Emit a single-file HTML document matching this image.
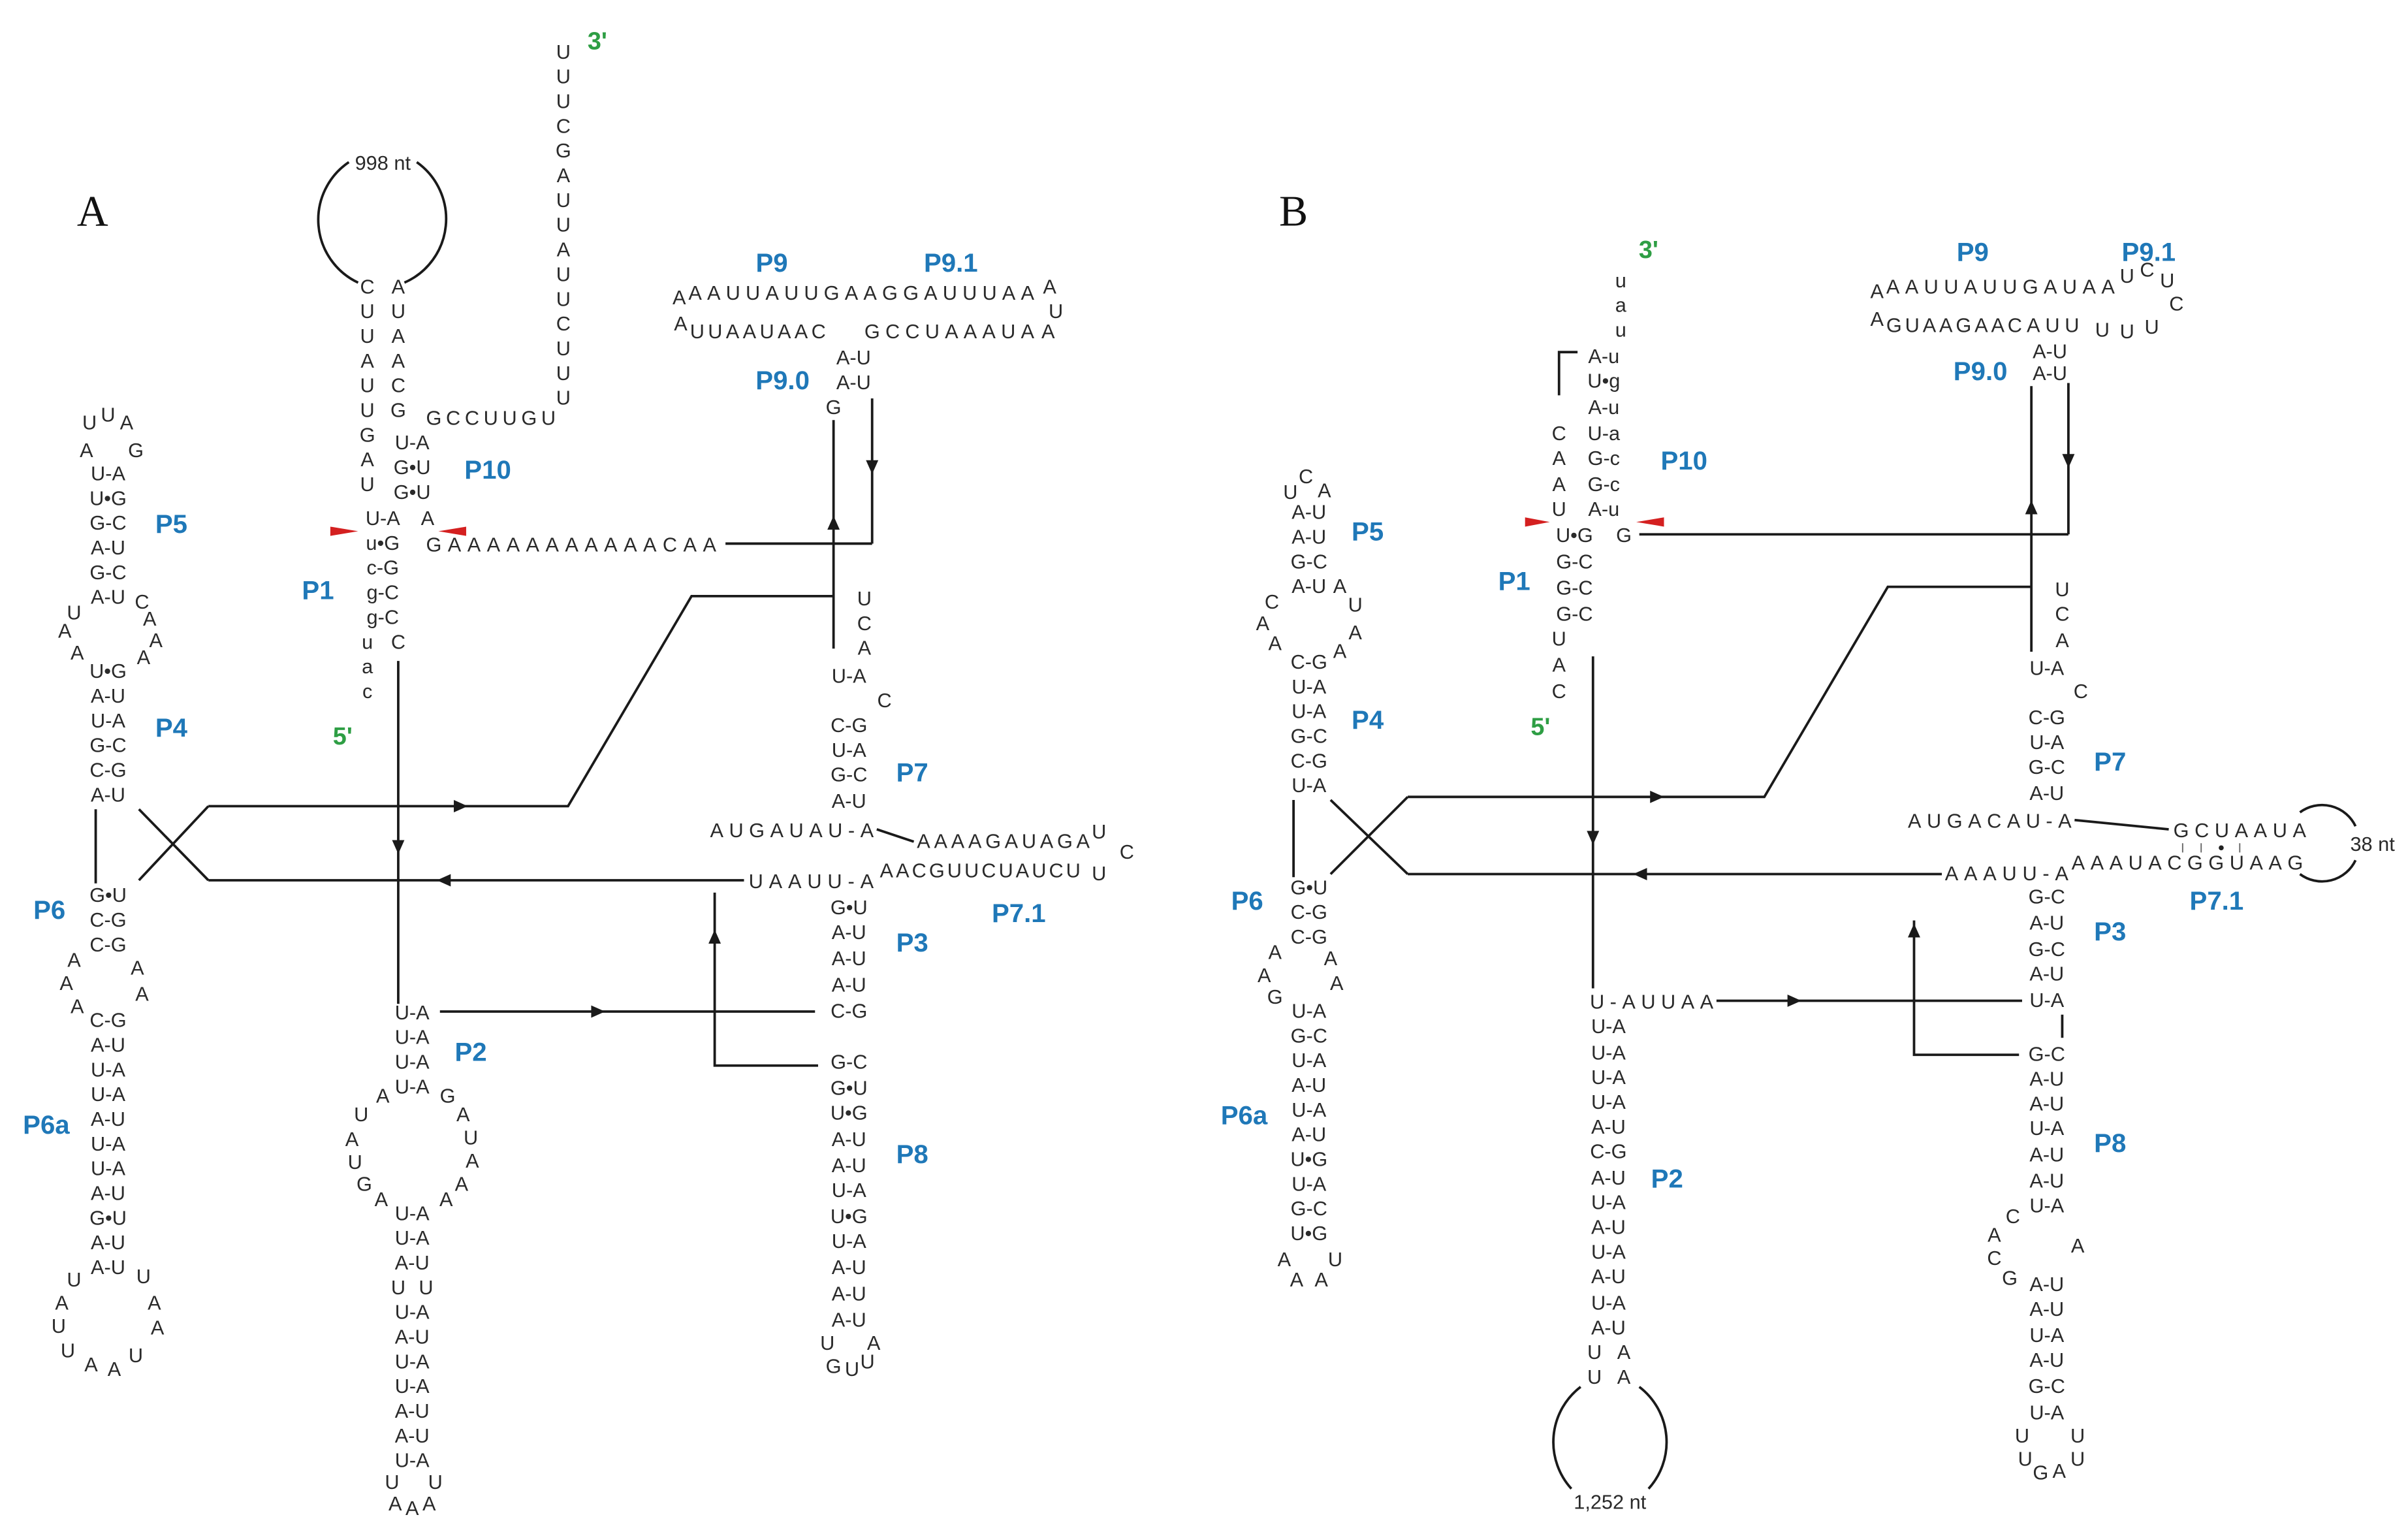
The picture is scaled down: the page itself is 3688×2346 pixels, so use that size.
<!DOCTYPE html>
<html><head><meta charset="utf-8"><style>
html,body{margin:0;padding:0;background:#fff}
svg{display:block}
text{font-family:"Liberation Sans",sans-serif;font-size:13px;text-anchor:middle;fill:#2a2a2a}
.l{fill:#1f78b8;font-weight:bold;font-size:17px}
.g{fill:#2e9e44;font-weight:bold;font-size:16px}
.s{font-family:"Liberation Serif",serif;font-size:28px;fill:#111}
.st{text-anchor:start}
line,polyline,path{stroke:#1a1a1a;stroke-width:1.6;fill:none}
.a{fill:#1a1a1a;stroke:none}
.r{fill:#d42020;stroke:none}
.t{stroke:#666;stroke-width:0.8}
</style></head><body>
<svg width="3688" height="2346" viewBox="0 0 1560 992" preserveAspectRatio="none" xmlns="http://www.w3.org/2000/svg">
<text class="s" x="60" y="146">A</text>
<text class="s" x="838" y="146">B</text>

<!-- ===== Panel A left stem ===== -->
<text x="58" y="278">U</text><text x="70" y="273">U</text><text x="82" y="278">A</text>
<text x="56" y="296">A</text><text x="88" y="296">G</text>
<text x="70" y="311">U-A</text><text x="70" y="327">U•G</text><text x="70" y="343">G-C</text><text x="70" y="359">A-U</text><text x="70" y="375">G-C</text><text x="70" y="391">A-U</text>
<text x="92" y="394">C</text><text x="48" y="401">U</text><text x="42" y="413">A</text><text x="50" y="427">A</text>
<text x="97" y="405">A</text><text x="101" y="419">A</text><text x="93" y="430">A</text>
<text x="70" y="439">U•G</text><text x="70" y="455">A-U</text><text x="70" y="471">U-A</text><text x="70" y="487">G-C</text><text x="70" y="503">C-G</text><text x="70" y="519">A-U</text>
<line x1="62" y1="524" x2="62" y2="572"/>
<text x="70" y="584">G•U</text><text x="70" y="600">C-G</text><text x="70" y="616">C-G</text>
<text x="48" y="626">A</text><text x="43" y="641">A</text><text x="50" y="656">A</text><text x="89" y="631">A</text><text x="92" y="648">A</text>
<text x="70" y="665">C-G</text><text x="70" y="681">A-U</text><text x="70" y="697">U-A</text><text x="70" y="713">U-A</text><text x="70" y="729">A-U</text><text x="70" y="745">U-A</text><text x="70" y="761">U-A</text><text x="70" y="777">A-U</text><text x="70" y="793">G•U</text><text x="70" y="809">A-U</text><text x="70" y="825">A-U</text>
<text x="48" y="833">U</text><text x="93" y="831">U</text><text x="40" y="848">A</text><text x="38" y="863">U</text><text x="44" y="879">U</text><text x="59" y="888">A</text><text x="74" y="891">A</text><text x="88" y="882">U</text><text x="102" y="864">A</text><text x="100" y="848">A</text>
<text class="l" x="111" y="345">P5</text><text class="l" x="111" y="477">P4</text><text class="l" x="32" y="595">P6</text><text class="l" x="30" y="734">P6a</text>

<!-- ===== Panel A P1/P10 ===== -->
<path d="M226,105 A45,45 0 0,0 232,183"/>
<path d="M270,105 A45,45 0 0,1 262,183"/>
<text x="248" y="110">998 nt</text>
<text x="238" y="190">C<tspan x="238" dy="16">U</tspan><tspan x="238" dy="16">U</tspan><tspan x="238" dy="16">A</tspan><tspan x="238" dy="16">U</tspan><tspan x="238" dy="16">U</tspan><tspan x="238" dy="16">G</tspan><tspan x="238" dy="16">A</tspan><tspan x="238" dy="16">U</tspan></text>
<text x="258" y="190">A<tspan x="258" dy="16">U</tspan><tspan x="258" dy="16">A</tspan><tspan x="258" dy="16">A</tspan><tspan x="258" dy="16">C</tspan><tspan x="258" dy="16">G</tspan></text>
<text x="267" y="291">U-A</text><text x="267" y="307">G•U</text><text x="267" y="323">G•U</text>
<text x="248" y="340">U-A</text><text x="277" y="340">A</text>
<text x="248" y="356">u•G</text>
<text x="248" y="372">c-G</text><text x="248" y="388">g-C</text><text x="248" y="404">g-C</text>
<text x="238" y="420">u<tspan x="238" dy="16">a</tspan><tspan x="238" dy="16">c</tspan></text><text x="258" y="420">C</text>
<text class="g" x="222" y="482">5'</text>
<text class="st" x="276" y="275" textLength="84">GCCUUGU</text>
<text x="365" y="38">U<tspan x="365" dy="16">U</tspan><tspan x="365" dy="16">U</tspan><tspan x="365" dy="16">C</tspan><tspan x="365" dy="16">G</tspan><tspan x="365" dy="16">A</tspan><tspan x="365" dy="16">U</tspan><tspan x="365" dy="16">U</tspan><tspan x="365" dy="16">A</tspan><tspan x="365" dy="16">U</tspan><tspan x="365" dy="16">U</tspan><tspan x="365" dy="16">C</tspan><tspan x="365" dy="16">U</tspan><tspan x="365" dy="16">U</tspan><tspan x="365" dy="16">U</tspan></text>
<text class="g" x="387" y="32">3'</text>
<text class="st" x="276" y="357" textLength="188">GAAAAAAAAAAACAA</text>
<polygon class="r" points="214,341 232,344 214,347"/><polygon class="r" points="302,341 284,344 302,347"/>
<text class="l" x="316" y="310">P10</text><text class="l" x="206" y="388">P1</text>

<!-- Panel A lines -->
<line x1="258" y1="428" x2="258" y2="650"/><polygon class="a" points="254,544 262,544 258,553"/>
<line x1="90" y1="524" x2="135" y2="570"/><line x1="90" y1="570" x2="135" y2="522"/>
<polyline points="135,522 368,522 448,386 540,386"/><polygon class="a" points="303,522 294,518 294,526"/>
<line x1="135" y1="570" x2="482" y2="570"/><polygon class="a" points="283,570 292,566 292,574"/>
<line x1="470" y1="352" x2="565" y2="352"/>
<line x1="540" y1="272" x2="540" y2="420"/><polygon class="a" points="540,334 536,343 544,343"/>
<line x1="565" y1="258" x2="565" y2="352"/><polygon class="a" points="565,307 561,298 569,298"/>
<line x1="285" y1="655" x2="528" y2="655"/><polygon class="a" points="392,655 383,651 383,659"/>
<polyline points="463,578 463,690 530,690"/><polygon class="a" points="463,602 459,611 467,611"/>

<!-- Panel A P9 -->
<text class="l" x="500" y="176">P9</text><text class="l" x="616" y="176">P9.1</text>
<text x="440" y="197">A</text><text class="st" x="446" y="194" textLength="224">AAUUAUUGAAGGAUUUAA</text><text x="680" y="190">A</text><text x="684" y="206">U</text>
<text x="441" y="214">A</text><text class="st" x="447" y="219" textLength="88">UUAAUAAC</text><text class="st" x="560" y="219" textLength="110">GCCUAAAUA</text><text x="679" y="219">A</text>
<text x="553" y="236">A-U</text><text x="553" y="252">A-U</text><text x="540" y="268">G</text>
<text class="l" x="507" y="252">P9.0</text>

<!-- Panel A right stem -->
<text x="560" y="392">U<tspan x="560" dy="16">C</tspan><tspan x="560" dy="16">A</tspan></text>
<text x="550" y="442">U-A</text><text x="573" y="458">C</text>
<text x="550" y="474">C-G</text><text x="550" y="490">U-A</text><text x="550" y="506">G-C</text><text x="550" y="523">A-U</text>
<text class="st" x="460" y="542" textLength="106">AUGAUAU-A</text>
<line x1="568" y1="537" x2="592" y2="545"/>
<text class="st" x="594" y="549" textLength="112">AAAAGAUAGA</text><text x="712" y="543">U</text><text x="730" y="556">C</text>
<text class="st" x="485" y="575" textLength="81">UAAUU-A</text>
<text class="st" x="570" y="568" textLength="130">AACGUUCUAUCU</text><text x="712" y="570">U</text>
<text x="550" y="592">G•U</text><text x="550" y="608">A-U</text><text x="550" y="625">A-U</text><text x="550" y="642">A-U</text><text x="550" y="659">C-G</text>
<text x="550" y="692">G-C</text><text x="550" y="709">G•U</text><text x="550" y="725">U•G</text><text x="550" y="742">A-U</text><text x="550" y="759">A-U</text><text x="550" y="775">U-A</text><text x="550" y="792">U•G</text><text x="550" y="808">U-A</text><text x="550" y="825">A-U</text><text x="550" y="842">A-U</text><text x="550" y="859">A-U</text>
<text x="536" y="874">U</text><text x="566" y="874">A</text><text x="540" y="889">G</text><text x="552" y="891">U</text><text x="562" y="886">U</text>
<text class="l" x="591" y="506">P7</text><text class="l" x="660" y="597">P7.1</text><text class="l" x="591" y="616">P3</text><text class="l" x="591" y="753">P8</text>

<!-- Panel A P2 -->
<text x="267" y="660">U-A</text><text x="267" y="676">U-A</text><text x="267" y="692">U-A</text><text x="267" y="708">U-A</text>
<text class="l" x="305" y="687">P2</text>
<text x="248" y="714">A</text><text x="234" y="726">U</text><text x="228" y="742">A</text><text x="230" y="757">U</text><text x="236" y="771">G</text><text x="247" y="781">A</text>
<text x="290" y="714">G</text><text x="300" y="726">A</text><text x="305" y="741">U</text><text x="306" y="756">A</text><text x="299" y="771">A</text><text x="289" y="781">A</text>
<text x="267" y="790">U-A</text><text x="267" y="806">U-A</text><text x="267" y="822">A-U</text><text x="258" y="838">U</text><text x="276" y="838">U</text><text x="267" y="854">U-A</text><text x="267" y="870">A-U</text><text x="267" y="886">U-A</text><text x="267" y="902">U-A</text><text x="267" y="918">A-U</text><text x="267" y="934">A-U</text><text x="267" y="950">U-A</text>
<text x="254" y="964">U</text><text x="282" y="964">U</text><text x="256" y="978">A</text><text x="267" y="981">A</text><text x="278" y="978">A</text>

<!-- ===== Panel B left stem ===== -->
<text x="836" y="323">U</text><text x="846" y="313">C</text><text x="858" y="322">A</text>
<text x="848" y="336">A-U</text><text x="848" y="352">A-U</text><text x="848" y="368">G-C</text><text x="848" y="384">A-U</text>
<text x="868" y="384">A</text><text x="878" y="396">U</text><text x="824" y="394">C</text><text x="818" y="408">A</text><text x="826" y="421">A</text><text x="878" y="414">A</text>
<text x="848" y="433">C-G</text><text x="868" y="426">A</text>
<text x="848" y="449">U-A</text><text x="848" y="465">U-A</text><text x="848" y="481">G-C</text><text x="848" y="497">C-G</text><text x="848" y="513">U-A</text>
<line x1="838" y1="518" x2="838" y2="568"/>
<text x="848" y="579">G•U</text><text x="848" y="595">C-G</text><text x="848" y="611">C-G</text>
<text x="826" y="621">A</text><text x="819" y="636">A</text><text x="826" y="650">G</text><text x="862" y="625">A</text><text x="866" y="641">A</text>
<text x="848" y="659">U-A</text><text x="848" y="675">G-C</text><text x="848" y="691">U-A</text><text x="848" y="707">A-U</text><text x="848" y="723">U-A</text><text x="848" y="739">A-U</text><text x="848" y="755">U•G</text><text x="848" y="771">U-A</text><text x="848" y="787">G-C</text><text x="848" y="803">U•G</text>
<text x="832" y="820">A</text><text x="865" y="820">U</text><text x="840" y="833">A</text><text x="856" y="833">A</text>
<text class="l" x="886" y="350">P5</text><text class="l" x="886" y="472">P4</text><text class="l" x="808" y="589">P6</text><text class="l" x="806" y="728">P6a</text>

<!-- Panel B P1/P10 -->
<text class="g" x="1068" y="167">3'</text>
<text x="1050" y="186">u<tspan x="1050" dy="16">a</tspan><tspan x="1050" dy="16">u</tspan></text>
<polyline points="1022,228 1010,228 1010,256"/>
<text x="1039" y="235">A-u</text><text x="1039" y="251">U•g</text><text x="1039" y="268">A-u</text>
<text x="1010" y="285">C</text><text x="1039" y="285">U-a</text>
<text x="1010" y="301">A</text><text x="1039" y="301">G-c</text>
<text x="1010" y="318">A</text><text x="1039" y="318">G-c</text>
<text x="1010" y="334">U</text><text x="1039" y="334">A-u</text>
<text x="1020" y="351">U•G</text><text x="1052" y="351">G</text>
<text x="1020" y="368">G-C</text><text x="1020" y="385">G-C</text><text x="1020" y="402">G-C</text>
<text x="1010" y="418">U<tspan x="1010" dy="17">A</tspan><tspan x="1010" dy="17">C</tspan></text>
<text class="g" x="998" y="476">5'</text>
<polygon class="r" points="988,335 1004,338 988,341"/><polygon class="r" points="1078,335 1060,338 1078,341"/>
<text class="l" x="1091" y="304">P10</text><text class="l" x="981" y="382">P1</text>

<!-- Panel B lines -->
<line x1="1062" y1="346" x2="1340" y2="346"/>
<line x1="1340" y1="248" x2="1340" y2="346"/><polygon class="a" points="1340,303 1336,294 1344,294"/>
<line x1="1316" y1="250" x2="1316" y2="422"/><polygon class="a" points="1316,324 1312,333 1320,333"/>
<line x1="1032" y1="425" x2="1032" y2="640"/><polygon class="a" points="1028,538 1036,538 1032,547"/>
<line x1="862" y1="518" x2="912" y2="566"/><line x1="862" y1="566" x2="912" y2="516"/>
<polyline points="912,516 1143,516 1223,380 1316,380"/><polygon class="a" points="1078,516 1069,512 1069,520"/>
<line x1="912" y1="566" x2="1258" y2="566"/><polygon class="a" points="1058,566 1067,562 1067,570"/>
<line x1="1112" y1="648" x2="1310" y2="648"/><polygon class="a" points="1167,648 1158,644 1158,652"/>
<polyline points="1240,596 1240,683 1308,683"/><polygon class="a" points="1240,598 1236,607 1244,607"/>
<line x1="1336" y1="657" x2="1336" y2="672"/>

<!-- Panel B P9 -->
<text class="l" x="1278" y="169">P9</text><text class="l" x="1392" y="169">P9.1</text>
<text x="1216" y="193">A</text><text class="st" x="1222" y="190" textLength="148">AAUUAUUGAUAA</text><text x="1378" y="183">U</text><text x="1391" y="179">C</text><text x="1404" y="186">U</text><text x="1410" y="201">C</text>
<text x="1216" y="211">A</text><text class="st" x="1222" y="215" textLength="88">GUAAGAAC</text><text class="st" x="1313" y="215" textLength="34">AUU</text><text x="1362" y="218">U</text><text x="1378" y="219">U</text><text x="1394" y="216">U</text>
<text x="1328" y="232">A-U</text><text x="1328" y="246">A-U</text>
<text class="l" x="1283" y="246">P9.0</text>

<!-- Panel B right stem -->
<text x="1336" y="386">U<tspan x="1336" dy="16">C</tspan><tspan x="1336" dy="17">A</tspan></text>
<text x="1326" y="437">U-A</text><text x="1348" y="452">C</text>
<text x="1326" y="469">C-G</text><text x="1326" y="485">U-A</text><text x="1326" y="501">G-C</text><text x="1326" y="518">A-U</text>
<text class="st" x="1236" y="536" textLength="106">AUGACAU-A</text>
<line x1="1344" y1="531" x2="1405" y2="537"/>
<text class="st" x="1408" y="542" textLength="86">GCUAAUA</text>
<line class="t" x1="1414" y1="546" x2="1414" y2="552"/><line class="t" x1="1426" y1="546" x2="1426" y2="552"/><circle cx="1439" cy="549" r="1.6" fill="#222"/><line class="t" x1="1451" y1="546" x2="1451" y2="552"/>
<text class="st" x="1260" y="570" textLength="80">AAAUU-A</text>
<text class="st" x="1342" y="563" textLength="150">AAAUACGGUAAG</text>
<path d="M1490,526 A24,24 0 0,1 1526,535"/>
<path d="M1490,566 A24,24 0 0,0 1526,557"/>
<text x="1537" y="551" style="font-size:13px">38 nt</text>
<text x="1326" y="585">G-C</text><text x="1326" y="602">A-U</text><text x="1326" y="619">G-C</text><text x="1326" y="635">A-U</text><text x="1326" y="652">U-A</text>
<text x="1326" y="687">G-C</text><text x="1326" y="703">A-U</text><text x="1326" y="719">A-U</text><text x="1326" y="735">U-A</text><text x="1326" y="752">A-U</text><text x="1326" y="769">A-U</text><text x="1326" y="785">U-A</text>
<text x="1304" y="792">C</text><text x="1292" y="804">A</text><text x="1292" y="819">C</text><text x="1302" y="832">G</text><text x="1346" y="811">A</text>
<text x="1326" y="836">A-U</text><text x="1326" y="852">A-U</text><text x="1326" y="869">U-A</text><text x="1326" y="885">A-U</text><text x="1326" y="902">G-C</text><text x="1326" y="919">U-A</text>
<text x="1310" y="934">U</text><text x="1346" y="934">U</text><text x="1312" y="949">U</text><text x="1322" y="958">G</text><text x="1334" y="957">A</text><text x="1346" y="949">U</text>
<text class="l" x="1367" y="499">P7</text><text class="l" x="1436" y="589">P7.1</text><text class="l" x="1367" y="609">P3</text><text class="l" x="1367" y="746">P8</text>

<!-- Panel B P2 -->
<text class="st" x="1030" y="653" textLength="80">U-AUUAA</text>
<text x="1042" y="669">U-A</text><text x="1042" y="686">U-A</text><text x="1042" y="702">U-A</text><text x="1042" y="718">U-A</text><text x="1042" y="734">A-U</text><text x="1042" y="750">C-G</text><text x="1042" y="767">A-U</text><text x="1042" y="783">U-A</text><text x="1042" y="799">A-U</text><text x="1042" y="815">U-A</text><text x="1042" y="831">A-U</text><text x="1042" y="848">U-A</text><text x="1042" y="864">A-U</text>
<text x="1033" y="880">U</text><text x="1052" y="880">A</text><text x="1033" y="896">U</text><text x="1052" y="896">A</text>
<path d="M1024,898 A45,45 0 0,0 1018,964"/>
<path d="M1062,898 A45,45 0 0,1 1068,964"/>
<text x="1043" y="977">1,252 nt</text>
<text class="l" x="1080" y="769">P2</text>
</svg>
</body></html>
